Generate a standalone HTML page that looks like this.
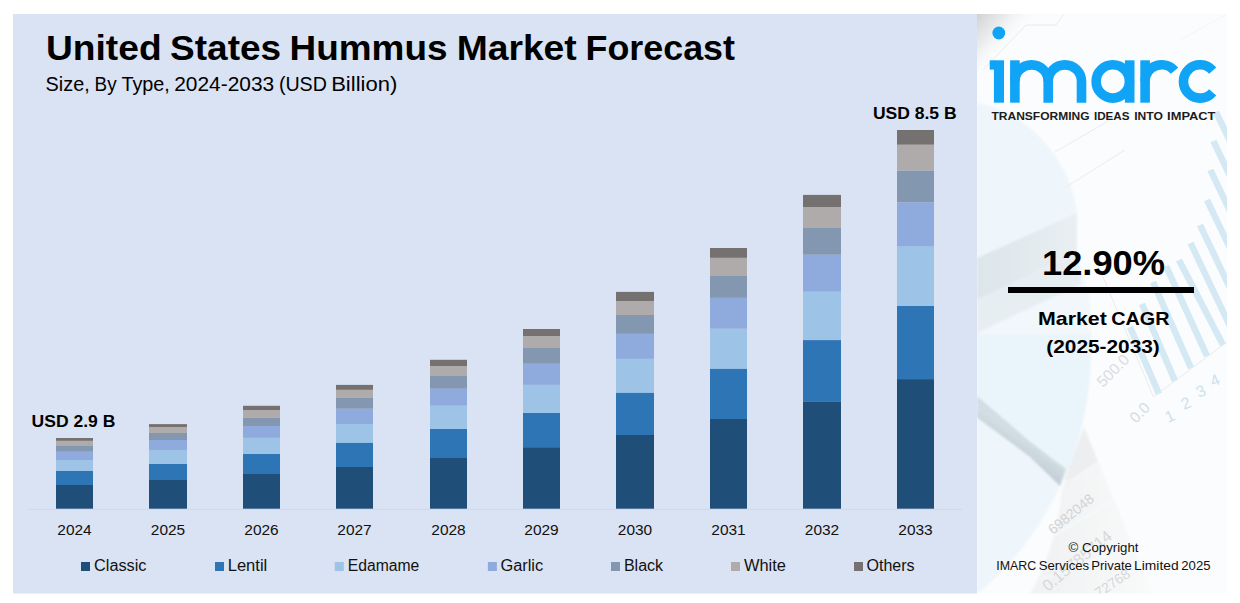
<!DOCTYPE html>
<html><head><meta charset="utf-8"><title>United States Hummus Market Forecast</title>
<style>
html,body{margin:0;padding:0;background:#fff;}
body{width:1240px;height:603px;overflow:hidden;font-family:"Liberation Sans",sans-serif;}
svg{display:block;}
text{font-family:"Liberation Sans",sans-serif;fill:#000;}
.b{font-weight:bold;}
.r{font-weight:normal;fill:#111;}
</style></head><body>
<svg width="1240" height="603" viewBox="0 0 1240 603">
<defs>

<filter id="bl" x="-5%" y="-5%" width="110%" height="110%"><feGaussianBlur stdDeviation="0.8"/></filter>
<filter id="bl2" x="-5%" y="-5%" width="110%" height="110%"><feGaussianBlur stdDeviation="0.5"/></filter>
<linearGradient id="sf" x1="977" y1="0" x2="1077" y2="0" gradientUnits="userSpaceOnUse"><stop offset="0" stop-color="#dce5ea"/><stop offset="1" stop-color="#e9eff3"/></linearGradient>
<linearGradient id="bd" x1="1025" y1="440" x2="1015" y2="455" gradientUnits="userSpaceOnUse"><stop offset="0" stop-color="#d3dde4"/><stop offset="1" stop-color="#c2cdd5"/></linearGradient>
<linearGradient id="sh" x1="1050" y1="0" x2="1150" y2="0" gradientUnits="userSpaceOnUse"><stop offset="0" stop-color="#f0f2f3"/><stop offset="1" stop-color="#f9fafa"/></linearGradient>
<linearGradient id="cg" x1="977" y1="14" x2="1010" y2="44" gradientUnits="userSpaceOnUse"><stop offset="0" stop-color="#cfd1d3"/><stop offset="0.5" stop-color="#e6e7e8" stop-opacity="0.8"/><stop offset="1" stop-color="#f8f8f8" stop-opacity="0"/></linearGradient>

</defs>
<rect width="1240" height="603" fill="#ffffff"/>
<!-- chart panel -->
<rect x="13" y="14" width="964" height="579.5" fill="#DAE3F3"/>
<!-- right panel -->
<g id="rp">

<clipPath id="rpc"><rect x="977" y="14" width="250" height="579.5"/></clipPath>
<g clip-path="url(#rpc)">
<rect x="977" y="14" width="250" height="579.5" fill="#fbfcfd"/>
<g filter="url(#bl)">
<!-- upper pie top surface -->
<path d="M977,103 C1008,108 1040,130 1060,163 C1070,181 1076,198 1077,214 L977,259 Z" fill="#eef6fb"/>
<!-- side face -->
<path d="M977,258 L1077,213 L1077,253 L977,300 Z" fill="url(#sf)"/>
<!-- lower light band -->
<path d="M977,300 L1077,253 L1090,300 L1092,345 L977,345 Z" fill="#f1f7fb"/>
<path d="M977,300 L1077,253 L1081,284 L977,333 Z" fill="#e7eef2"/>
<!-- big lower pie -->
<path d="M977,335 L1091,335 C1093,400 1078,455 1050,505 C1030,540 1005,570 977,594 Z" fill="#e9f4fb"/>
<path d="M977,417.6 L1030,457 L1060,486 C1040,530 1010,568 977,594 Z" fill="#eef6fc"/>
<!-- grey diagonal band -->
<path d="M977,396 L1030,441.5 L1066,469 L1060,486 L1030,457 L977,417.6 Z" fill="url(#bd)"/>
<!-- tilted table -->
<path d="M1084,427 L1153,594 L1030,594 C1045,570 1058,530 1062,490 Z" fill="url(#sh)"/>
<path d="M1064,480 L1084,427 L1098,462 L1072,480 Z" fill="#eceef0"/>
<path d="M1072,480 L1098,462 M1050,538 L1115,500 M1040,580 L1135,545" stroke="#f9fafa" stroke-width="1.5" fill="none"/>
</g>
<!-- stripes -->
<g fill="#d4e9f3" filter="url(#bl2)">
<path d="M1127.0,328.2 L1133.0,325.8 L1162.0,392.8 L1156.0,395.2 Z"/>
<path d="M1139.0,305.2 L1145.0,302.8 L1178.0,379.8 L1172.0,382.2 Z"/>
<path d="M1150.0,283.2 L1156.0,280.8 L1194.0,366.8 L1188.0,369.2 Z"/>
<path d="M1163.0,267.2 L1169.0,264.8 L1210.0,354.8 L1204.0,357.2 Z"/>
<path d="M1176.0,261.2 L1182.0,258.8 L1226.0,343.8 L1220.0,346.2 Z"/>
<path d="M1187.5,244.2 L1193.5,241.8 L1233.0,324.8 L1227.0,327.2 Z"/>
<path d="M1197.0,226.2 L1203.0,223.8 L1233.0,286.8 L1227.0,289.2 Z"/>
<path d="M1204.0,201.2 L1210.0,198.8 L1233.0,246.8 L1227.0,249.2 Z"/>
<path d="M1207.4,171.2 L1213.4,168.8 L1233.0,209.8 L1227.0,212.2 Z"/>
<path d="M1210.4,142.2 L1216.4,139.8 L1233.0,174.8 L1227.0,177.2 Z"/>
<path d="M1213.0,113.2 L1219.0,110.8 L1233.0,139.8 L1227.0,142.2 Z"/>
</g>
<!-- corner shade -->
<rect x="977" y="14" width="80" height="80" fill="url(#cg)"/>
<!-- faint lines -->
<g fill="none" stroke="#e9ebec" stroke-width="1">
<path d="M983,70 L1026,25 L1056,25 L1064,14"/>
<path d="M1055,152 L1110,120 M1066,187 L1125,150 M1100,270 L1153.5,397 L1227,342"/>
<path d="M1180,40 L1227,14" stroke="#f3f4f5"/>
</g>
<!-- faint rotated numbers -->
<g style="font-family:'Liberation Sans',sans-serif" font-size="15">
<text transform="translate(1103,388) rotate(-45)" style="fill:#d9dde2" font-size="15.5">500.0</text>
<text transform="translate(1136,424) rotate(-46)" style="fill:#d5dbe2" font-size="15.5">0.0</text>
<text transform="translate(1168,423) rotate(-24)" style="fill:#cbe1ee" font-size="16">1</text>
<text transform="translate(1184,410) rotate(-24)" style="fill:#cbe1ee" font-size="16">2</text>
<text transform="translate(1199,398) rotate(-24)" style="fill:#cbe1ee" font-size="16">3</text>
<text transform="translate(1213,387) rotate(-24)" style="fill:#cbe1ee" font-size="16">4</text>
<text transform="translate(1053,535) rotate(-39.6)" style="fill:#d1d3d5" font-size="14">6982048</text>
<text transform="translate(1048,592) rotate(-39.7)" style="fill:#d6d8da" font-size="16">0.15785714</text>
<text transform="translate(1099,598) rotate(-34)" style="fill:#d6d8da" font-size="14">72768</text>
</g>
</g>

</g>
<!-- title -->
<g class="b" font-size="35.5">
<text x="46.0" y="59.7" textLength="115.6" lengthAdjust="spacingAndGlyphs">United</text>
<text x="170.1" y="59.7" textLength="111.0" lengthAdjust="spacingAndGlyphs">States</text>
<text x="289.5" y="59.7" textLength="158.0" lengthAdjust="spacingAndGlyphs">Hummus</text>
<text x="456.7" y="59.7" textLength="120.0" lengthAdjust="spacingAndGlyphs">Market</text>
<text x="585.5" y="59.7" textLength="149.5" lengthAdjust="spacingAndGlyphs">Forecast</text>
</g>
<g class="r" font-size="19.6">
<text x="45.6" y="90.8" textLength="44.1" lengthAdjust="spacingAndGlyphs">Size,</text>
<text x="94.6" y="90.8" textLength="22" lengthAdjust="spacingAndGlyphs">By</text>
<text x="121.4" y="90.8" textLength="48.5" lengthAdjust="spacingAndGlyphs">Type,</text>
<text x="174.2" y="90.8" textLength="100" lengthAdjust="spacingAndGlyphs">2024-2033</text>
<text x="278.9" y="90.8" textLength="48" lengthAdjust="spacingAndGlyphs">(USD</text>
<text x="331.2" y="90.8" textLength="66.1" lengthAdjust="spacingAndGlyphs">Billion)</text>
</g>
<!-- axis -->
<rect x="28" y="508.9" width="934" height="1" fill="#d2d9df"/>
<rect x="56" y="438.0" width="37" height="2.9" fill="#767171"/>
<rect x="56" y="440.9" width="37" height="5.1" fill="#AFABAB"/>
<rect x="56" y="446.0" width="37" height="5.8" fill="#8497B0"/>
<rect x="56" y="451.8" width="37" height="8.2" fill="#8FAADC"/>
<rect x="56" y="460.0" width="37" height="11.0" fill="#9DC3E6"/>
<rect x="56" y="471.0" width="37" height="14.0" fill="#2E75B6"/>
<rect x="56" y="485.0" width="37" height="23.7" fill="#1F4E79"/>
<rect x="149" y="424.1" width="38" height="2.9" fill="#767171"/>
<rect x="149" y="427.0" width="38" height="6.0" fill="#AFABAB"/>
<rect x="149" y="433.0" width="38" height="7.0" fill="#8497B0"/>
<rect x="149" y="440.0" width="38" height="10.0" fill="#8FAADC"/>
<rect x="149" y="450.0" width="38" height="14.0" fill="#9DC3E6"/>
<rect x="149" y="464.0" width="38" height="16.0" fill="#2E75B6"/>
<rect x="149" y="480.0" width="38" height="28.7" fill="#1F4E79"/>
<rect x="243" y="405.8" width="37" height="4.2" fill="#767171"/>
<rect x="243" y="410.0" width="37" height="7.8" fill="#AFABAB"/>
<rect x="243" y="417.8" width="37" height="8.2" fill="#8497B0"/>
<rect x="243" y="426.0" width="37" height="11.9" fill="#8FAADC"/>
<rect x="243" y="437.9" width="37" height="16.1" fill="#9DC3E6"/>
<rect x="243" y="454.0" width="37" height="20.0" fill="#2E75B6"/>
<rect x="243" y="474.0" width="37" height="34.7" fill="#1F4E79"/>
<rect x="336" y="384.9" width="37" height="5.0" fill="#767171"/>
<rect x="336" y="389.9" width="37" height="8.0" fill="#AFABAB"/>
<rect x="336" y="397.9" width="37" height="10.9" fill="#8497B0"/>
<rect x="336" y="408.8" width="37" height="15.2" fill="#8FAADC"/>
<rect x="336" y="424.0" width="37" height="18.9" fill="#9DC3E6"/>
<rect x="336" y="442.9" width="37" height="24.1" fill="#2E75B6"/>
<rect x="336" y="467.0" width="37" height="41.7" fill="#1F4E79"/>
<rect x="430" y="359.8" width="37" height="6.2" fill="#767171"/>
<rect x="430" y="366.0" width="37" height="10.0" fill="#AFABAB"/>
<rect x="430" y="376.0" width="37" height="12.8" fill="#8497B0"/>
<rect x="430" y="388.8" width="37" height="17.0" fill="#8FAADC"/>
<rect x="430" y="405.8" width="37" height="23.2" fill="#9DC3E6"/>
<rect x="430" y="429.0" width="37" height="29.0" fill="#2E75B6"/>
<rect x="430" y="458.0" width="37" height="50.7" fill="#1F4E79"/>
<rect x="523" y="329.0" width="37" height="7.0" fill="#767171"/>
<rect x="523" y="336.0" width="37" height="12.0" fill="#AFABAB"/>
<rect x="523" y="348.0" width="37" height="15.8" fill="#8497B0"/>
<rect x="523" y="363.8" width="37" height="21.1" fill="#8FAADC"/>
<rect x="523" y="384.9" width="37" height="28.1" fill="#9DC3E6"/>
<rect x="523" y="413.0" width="37" height="34.2" fill="#2E75B6"/>
<rect x="523" y="447.2" width="37" height="61.5" fill="#1F4E79"/>
<rect x="616" y="291.9" width="38" height="9.1" fill="#767171"/>
<rect x="616" y="301.0" width="38" height="14.0" fill="#AFABAB"/>
<rect x="616" y="315.0" width="38" height="18.9" fill="#8497B0"/>
<rect x="616" y="333.9" width="38" height="25.0" fill="#8FAADC"/>
<rect x="616" y="358.9" width="38" height="34.0" fill="#9DC3E6"/>
<rect x="616" y="392.9" width="38" height="42.1" fill="#2E75B6"/>
<rect x="616" y="435.0" width="38" height="73.7" fill="#1F4E79"/>
<rect x="710" y="248.0" width="37" height="9.9" fill="#767171"/>
<rect x="710" y="257.9" width="37" height="18.1" fill="#AFABAB"/>
<rect x="710" y="276.0" width="37" height="21.9" fill="#8497B0"/>
<rect x="710" y="297.9" width="37" height="30.9" fill="#8FAADC"/>
<rect x="710" y="328.8" width="37" height="40.1" fill="#9DC3E6"/>
<rect x="710" y="368.9" width="37" height="50.1" fill="#2E75B6"/>
<rect x="710" y="419.0" width="37" height="89.7" fill="#1F4E79"/>
<rect x="803" y="194.9" width="38" height="12.1" fill="#767171"/>
<rect x="803" y="207.0" width="38" height="20.9" fill="#AFABAB"/>
<rect x="803" y="227.9" width="38" height="26.9" fill="#8497B0"/>
<rect x="803" y="254.8" width="38" height="37.0" fill="#8FAADC"/>
<rect x="803" y="291.8" width="38" height="48.3" fill="#9DC3E6"/>
<rect x="803" y="340.1" width="38" height="61.3" fill="#2E75B6"/>
<rect x="803" y="401.4" width="38" height="107.3" fill="#1F4E79"/>
<rect x="897" y="130.0" width="37" height="14.8" fill="#767171"/>
<rect x="897" y="144.8" width="37" height="25.9" fill="#AFABAB"/>
<rect x="897" y="170.7" width="37" height="31.9" fill="#8497B0"/>
<rect x="897" y="202.6" width="37" height="44.1" fill="#8FAADC"/>
<rect x="897" y="246.7" width="37" height="59.3" fill="#9DC3E6"/>
<rect x="897" y="306.0" width="37" height="73.1" fill="#2E75B6"/>
<rect x="897" y="379.1" width="37" height="129.6" fill="#1F4E79"/>
<text x="31.6" y="426.9" class="b" font-size="16.8" textLength="83.7" lengthAdjust="spacingAndGlyphs">USD 2.9 B</text>
<text x="872.9" y="118.9" class="b" font-size="16.8" textLength="83.7" lengthAdjust="spacingAndGlyphs">USD 8.5 B</text>
<text x="74.5" y="535.2" text-anchor="middle" class="r" font-size="15.5" textLength="34.4" lengthAdjust="spacingAndGlyphs">2024</text>
<text x="168.0" y="535.2" text-anchor="middle" class="r" font-size="15.5" textLength="34.4" lengthAdjust="spacingAndGlyphs">2025</text>
<text x="261.5" y="535.2" text-anchor="middle" class="r" font-size="15.5" textLength="34.4" lengthAdjust="spacingAndGlyphs">2026</text>
<text x="354.5" y="535.2" text-anchor="middle" class="r" font-size="15.5" textLength="34.4" lengthAdjust="spacingAndGlyphs">2027</text>
<text x="448.5" y="535.2" text-anchor="middle" class="r" font-size="15.5" textLength="34.4" lengthAdjust="spacingAndGlyphs">2028</text>
<text x="541.5" y="535.2" text-anchor="middle" class="r" font-size="15.5" textLength="34.4" lengthAdjust="spacingAndGlyphs">2029</text>
<text x="635.0" y="535.2" text-anchor="middle" class="r" font-size="15.5" textLength="34.4" lengthAdjust="spacingAndGlyphs">2030</text>
<text x="728.5" y="535.2" text-anchor="middle" class="r" font-size="15.5" textLength="34.4" lengthAdjust="spacingAndGlyphs">2031</text>
<text x="822.0" y="535.2" text-anchor="middle" class="r" font-size="15.5" textLength="34.4" lengthAdjust="spacingAndGlyphs">2032</text>
<text x="915.5" y="535.2" text-anchor="middle" class="r" font-size="15.5" textLength="34.4" lengthAdjust="spacingAndGlyphs">2033</text>
<rect x="81.0" y="562" width="9" height="9" fill="#1F4E79"/>
<text x="94.1" y="570.9" class="r" font-size="16" textLength="52.4" lengthAdjust="spacingAndGlyphs">Classic</text>
<rect x="215.0" y="562" width="9" height="9" fill="#2E75B6"/>
<text x="227.7" y="570.9" class="r" font-size="16" textLength="39.6" lengthAdjust="spacingAndGlyphs">Lentil</text>
<rect x="334.8" y="562" width="9" height="9" fill="#9DC3E6"/>
<text x="347.7" y="570.9" class="r" font-size="16" textLength="71.6" lengthAdjust="spacingAndGlyphs">Edamame</text>
<rect x="487.9" y="562" width="9" height="9" fill="#8FAADC"/>
<text x="500.4" y="570.9" class="r" font-size="16" textLength="42.8" lengthAdjust="spacingAndGlyphs">Garlic</text>
<rect x="611.0" y="562" width="9" height="9" fill="#8497B0"/>
<text x="623.9" y="570.9" class="r" font-size="16" textLength="39.2" lengthAdjust="spacingAndGlyphs">Black</text>
<rect x="731.0" y="562" width="9" height="9" fill="#AFABAB"/>
<text x="743.9" y="570.9" class="r" font-size="16" textLength="42.0" lengthAdjust="spacingAndGlyphs">White</text>
<rect x="854.0" y="562" width="9" height="9" fill="#767171"/>
<text x="866.5" y="570.9" class="r" font-size="16" textLength="48.1" lengthAdjust="spacingAndGlyphs">Others</text>
<!-- logo -->
<g id="logo">

<circle cx="998.8" cy="33" r="6.4" fill="#0fa4f6"/>
<g fill="none" stroke="#0fa4f6" stroke-width="9.6">
<path d="M998.95,60.3V102.7" stroke-width="10.1"/>
<path d="M1014.9,60.3V102.7"/>
<path d="M1014.9,81.45A16.65,16.65 0 0 1 1048.2,81.45V102.7"/>
<path d="M1048.2,81.45A16.65,16.65 0 0 1 1081.5,81.45V102.7"/>
<circle cx="1112.8" cy="81.45" r="16.65"/>
<path d="M1129.7,60.3V102.7"/>
<path d="M1145.1,60.3V102.7"/>
<path d="M1145.1,81.45A16.65,16.65 0 0 1 1174.5,70.75"/>
<path d="M1212.67,70.53A16.65,16.65 0 1 0 1212.67,92.37"/>
</g>
<rect x="989.7" y="60.3" width="5" height="9.3" fill="#0fa4f6"/>
<g class="b" font-size="11" style="fill:#1c1c1c">
<text x="991.5" y="119.8" textLength="98" lengthAdjust="spacingAndGlyphs" style="fill:#1c1c1c">TRANSFORMING</text>
<text x="1093.9" y="119.8" textLength="35.6" lengthAdjust="spacingAndGlyphs" style="fill:#1c1c1c">IDEAS</text>
<text x="1134.2" y="119.8" textLength="28.7" lengthAdjust="spacingAndGlyphs" style="fill:#1c1c1c">INTO</text>
<text x="1167.1" y="119.8" textLength="48.4" lengthAdjust="spacingAndGlyphs" style="fill:#1c1c1c">IMPACT</text>
</g>

</g>
<!-- cagr -->
<text x="1042" y="274.9" class="b" font-size="34.6" textLength="123" lengthAdjust="spacingAndGlyphs">12.90%</text>
<rect x="1008" y="287" width="186" height="6" fill="#000"/>
<text x="1038" y="324.5" class="b" font-size="19" textLength="68.8" lengthAdjust="spacingAndGlyphs">Market</text>
<text x="1111.2" y="324.5" class="b" font-size="19" textLength="58.3" lengthAdjust="spacingAndGlyphs">CAGR</text>
<text x="1046.3" y="353.1" class="b" font-size="19" textLength="113.5" lengthAdjust="spacingAndGlyphs">(2025-2033)</text>
<text x="1068.5" y="551.9" class="r" font-size="12.6" textLength="70" lengthAdjust="spacingAndGlyphs">© Copyright</text>
<text x="996.3" y="569.9" class="r" font-size="12.6" textLength="40" lengthAdjust="spacingAndGlyphs">IMARC</text>
<text x="1038.7" y="569.9" class="r" font-size="12.6" textLength="50.4" lengthAdjust="spacingAndGlyphs">Services</text>
<text x="1091.2" y="569.9" class="r" font-size="12.6" textLength="40.7" lengthAdjust="spacingAndGlyphs">Private</text>
<text x="1134.1" y="569.9" class="r" font-size="12.6" textLength="44.5" lengthAdjust="spacingAndGlyphs">Limited</text>
<text x="1181.3" y="569.9" class="r" font-size="12.6" textLength="29.2" lengthAdjust="spacingAndGlyphs">2025</text>
</svg>
</body></html>
